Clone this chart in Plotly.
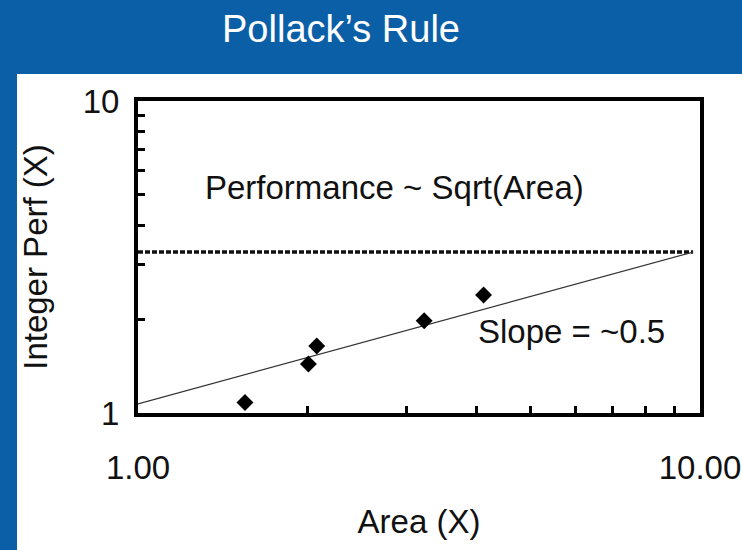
import plotly.graph_objects as go

# Measured area / integer performance of successive cores (both normalised, X)
area = [1.55, 2.01, 2.08, 3.23, 4.12]
perf = [1.08, 1.435, 1.64, 1.975, 2.39]

# Square-root trend line end points
trend_area = [1.0, 9.72]
trend_perf = [1.07, 3.28]

# Horizontal reference level
ref_level = 3.28
ref_area = [1.0, 9.72]

x_tick_vals = [1, 2, 3, 4, 5, 6, 7, 8, 9, 10]
x_tick_text = ["1.00", "", "", "", "", "", "", "", "", "10.00"]
y_tick_vals = [1, 2, 3, 4, 5, 6, 7, 8, 9, 10]
y_tick_text = ["1", "", "", "", "", "", "", "", "", "10"]

BLUE = "#0B5FA7"
INK = "#111111"
FONT = "Arial, Liberation Sans, sans-serif"

W, H = 742, 550
L, R, T, B = 138, 42, 101, 137
pw, ph = W - L - R, H - T - B

fig = go.Figure()

fig.add_trace(go.Scatter(
    x=ref_area, y=[ref_level, ref_level], mode="lines",
    line=dict(color=INK, width=3.5, dash="5px,2px"),
    hoverinfo="skip", showlegend=False,
))
fig.add_trace(go.Scatter(
    x=trend_area, y=trend_perf, mode="lines",
    line=dict(color="#333333", width=1.2),
    hoverinfo="skip", showlegend=False,
))
fig.add_trace(go.Scatter(
    x=area, y=perf, mode="markers",
    marker=dict(symbol="diamond", size=13, color="#000000"),
    showlegend=False,
))

def px_to_paper_x(px):
    return (px - L) / pw

def px_to_paper_y(py):
    return (H - B - py) / ph

# white content panel on the blue slide background
fig.add_shape(
    type="rect", xref="paper", yref="paper", layer="below",
    x0=px_to_paper_x(17), x1=px_to_paper_x(760),
    y0=px_to_paper_y(570), y1=px_to_paper_y(74),
    fillcolor="white", line=dict(width=0),
)

fig.add_annotation(
    text="Performance ~ Sqrt(Area)", xref="paper", yref="paper",
    x=px_to_paper_x(394), y=px_to_paper_y(187), showarrow=False,
    xanchor="center", yanchor="middle", font=dict(size=33, color=INK, family=FONT),
)
fig.add_annotation(
    text="Slope = ~0.5", xref="paper", yref="paper",
    x=px_to_paper_x(571), y=px_to_paper_y(331), showarrow=False,
    xanchor="center", yanchor="middle", font=dict(size=33, color=INK, family=FONT),
)

axis_common = dict(
    type="log", showgrid=False, zeroline=False,
    showline=True, linecolor="#000000", linewidth=4, mirror=True,
    ticks="inside", ticklen=7, tickwidth=3, tickcolor="#000000",
    tickfont=dict(size=33, color=INK, family=FONT),
)

fig.update_xaxes(
    range=[0, 1], tickvals=x_tick_vals, ticktext=x_tick_text,
    ticklabelstandoff=22,
    title=dict(text="Area (X)", font=dict(size=33, color=INK, family=FONT), standoff=26),
    **axis_common,
)
fig.update_yaxes(
    range=[0, 1], tickvals=y_tick_vals, ticktext=y_tick_text,
    ticklabelstandoff=8,
    title=dict(text="Integer Perf (X)", font=dict(size=33, color=INK, family=FONT), standoff=26),
    **axis_common,
)

fig.update_layout(
    width=W, height=H,
    margin=dict(l=L, r=R, t=T, b=B, autoexpand=False),
    paper_bgcolor=BLUE, plot_bgcolor="white",
    title=dict(
        text="Pollack\u2019s Rule", x=341 / W, y=1 - 29 / H,
        xanchor="center", yanchor="middle", xref="container", yref="container",
        font=dict(size=38, color="white", family=FONT),
    ),
)

fig.write_html("out.html")
